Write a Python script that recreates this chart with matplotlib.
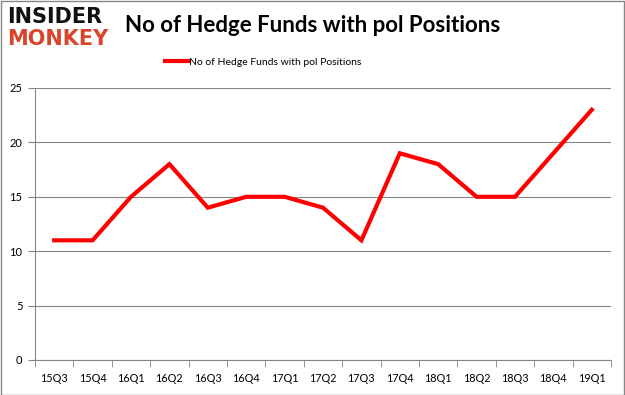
import matplotlib
matplotlib.use("Agg")
import matplotlib.pyplot as plt
from matplotlib.patches import Rectangle

categories = ["15Q3", "15Q4", "16Q1", "16Q2", "16Q3", "16Q4", "17Q1", "17Q2",
              "17Q3", "17Q4", "18Q1", "18Q2", "18Q3", "18Q4", "19Q1"]
values = [11, 11, 15, 18, 14, 15, 15, 14, 11, 19, 18, 15, 15, 19, 23]
yticks = [0, 5, 10, 15, 20, 25]
series_name = "No of Hedge Funds with pol Positions"
title = "No of Hedge Funds with pol Positions"

W, H = 625, 395
fig = plt.figure(figsize=(W / 100, H / 100), dpi=100)
ax = fig.add_axes([35 / W, 1 - 360 / H, (611 - 35) / W, (360 - 88) / H])

FONT = "Lato"
x = list(range(len(categories)))
ax.plot(x, values, color="#ff0000", lw=3, label=series_name, solid_joinstyle="miter")
ax.set_xlim(-0.5, len(categories) - 0.5)
ax.set_ylim(0, 25)
ax.set_yticks(yticks)
ax.set_yticklabels([str(v) for v in yticks], fontsize=8, family=FONT)
ax.set_xticks(x)
ax.set_xticklabels(categories, fontsize=7.8, family=FONT)
ax.set_xticks([i - 0.5 for i in range(len(categories) + 1)], minor=True)
ax.tick_params(axis="x", which="major", length=0, pad=9)
ax.tick_params(axis="x", which="minor", length=5, color="#868686")
ax.tick_params(axis="y", length=5, color="#868686", pad=4)
ax.grid(axis="y", color="#868686", lw=0.8)
ax.set_axisbelow(True)
for s in ["top", "right"]:
    ax.spines[s].set_visible(False)
ax.spines["bottom"].set_color("#868686")
ax.spines["left"].set_color("#868686")

fig.legend(handles=ax.get_lines(), labels=[series_name], loc="center",
           bbox_to_anchor=(263 / W, 1 - 62 / H), frameon=False,
           prop={"family": FONT, "size": 7.5},
           handlelength=2.2, handletextpad=0.1)

fig.text(312.5 / W, 1 - 25 / H, title, ha="center", va="center",
         fontsize=16, fontweight="bold", family=FONT)

fig.text(7 / W, 1 - 17 / H, "INSIDER", fontsize=15, fontweight="heavy",
         color="#111111", va="center", ha="left")
fig.text(7 / W, 1 - 39 / H, "MONKEY", fontsize=15, fontweight="heavy",
         color="#d9452b", va="center", ha="left")

fig.patches.append(Rectangle((0.5 / W, 0.5 / H), 1 - 1.5 / W, 1 - 1.5 / H,
                             transform=fig.transFigure, fill=False,
                             edgecolor="#868686", lw=1))

fig.savefig("out.png", dpi=100)
